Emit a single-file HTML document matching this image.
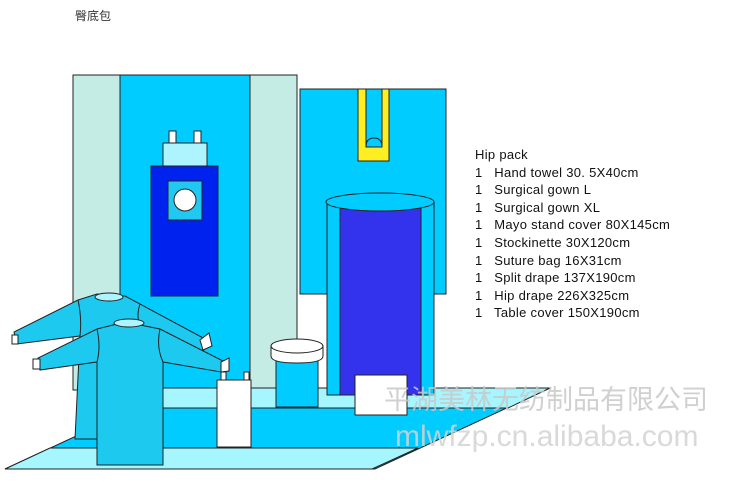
<!DOCTYPE html>
<html><head><meta charset="utf-8"><style>
body{margin:0;width:733px;height:500px;background:#fff;overflow:hidden;position:relative;font-family:"Liberation Sans","Noto Sans CJK SC",sans-serif}
.t{position:absolute;left:475px;top:146px;font-size:13px;line-height:17.6px;color:#111;letter-spacing:0.3px;white-space:pre}
</style></head><body>
<div style="position:absolute;left:75px;top:7px;font-size:12px;color:#333">臀底包</div>
<svg width="733" height="500" style="position:absolute;left:0;top:0" stroke="#222" stroke-width="1">
<rect x="73" y="75" width="224" height="315" fill="#c4ece4"/>
<rect x="120" y="75" width="130" height="315" fill="#00ccff"/>
<rect x="300" y="89" width="146" height="205" fill="#00ccff"/>
<path d="M358 89h8v58h16v-58h7v72h-31z" fill="#ffee22"/>
<path d="M366 147q0-9 8-9q8 0 8 9z" fill="#00ccff"/>
<rect x="169" y="131" width="7" height="13" fill="#fff"/>
<rect x="194" y="131" width="7" height="13" fill="#fff"/>
<rect x="163" y="143" width="44" height="23" fill="#aef4ff"/>
<rect x="151" y="166" width="67" height="130" fill="#0022ee"/>
<rect x="168" y="181" width="34" height="39" fill="#22c8f0"/>
<circle cx="185" cy="200" r="11" fill="#fff"/>
<polygon points="5,469 375,469 550,388 180,388" fill="#00ccff"/>
<polygon points="163,388 550,388 508,408 120,408" fill="#a6f6ff"/>
<polygon points="50,448 418,448 372,469 5,469" fill="#a6f6ff"/>
<rect x="327" y="202" width="107" height="193" fill="#00ccff"/>
<rect x="340" y="208" width="81" height="187" fill="#3333ee"/>
<ellipse cx="380" cy="202" rx="54" ry="9" fill="#00ccff"/>
<rect x="276" y="355" width="42" height="52" fill="#00ccff"/>
<path d="M271 346v10q0 7 26 7t26-7v-10z" fill="#fff"/>
<ellipse cx="297" cy="346" rx="26" ry="7" fill="#fff"/>
<rect x="355" y="375" width="52" height="40" fill="#fff"/>
<polygon points="78,300 97,294 125,296 207,340 203,352 140,325 145,439 75,439 80,336 17,344 14,332" fill="#1ec9f0"/>
<path d="M78 300q4 18 2 36M140 304q-4 12 0 21" fill="none"/>
<rect x="12" y="335" width="6" height="9" fill="#fff"/>
<polygon points="200,340 209,333 212,346 203,350" fill="#fff"/>
<ellipse cx="109" cy="297" rx="14" ry="4" fill="#aef4ff"/>
<polygon points="97,329 125,322 160,329 225,362 221,372 163,362 163,465 97,465 97,362 40,370 38,358" fill="#1ec9f0"/>
<path d="M97 329q4 18 0 33M160 329q-4 18 3 33" fill="none"/>
<rect x="33" y="359" width="7" height="10" fill="#fff"/>
<polygon points="221,362 229,358 229,371 221,372" fill="#fff"/>
<ellipse cx="129" cy="323" rx="15" ry="4" fill="#aef4ff"/>
<rect x="221" y="372" width="5" height="9" fill="#fff"/>
<rect x="244" y="372" width="5" height="9" fill="#fff"/>
<rect x="217" y="380" width="34" height="67" fill="#fff"/>
</svg>
<div class="t">Hip pack
1   Hand towel 30. 5X40cm
1   Surgical gown L
1   Surgical gown XL
1   Mayo stand cover 80X145cm
1   Stockinette 30X120cm
1   Suture bag 16X31cm
1   Split drape 137X190cm
1   Hip drape 226X325cm
1   Table cover 150X190cm</div>
<div style="position:absolute;left:384px;top:378px;font-size:27px;color:rgba(200,200,200,0.85);white-space:nowrap">平湖美林无纺制品有限公司</div>
<div style="position:absolute;left:395px;top:420px;font-size:30px;color:rgba(210,210,210,0.85);white-space:nowrap">mlwfzp.cn.alibaba.com</div>
</body></html>
